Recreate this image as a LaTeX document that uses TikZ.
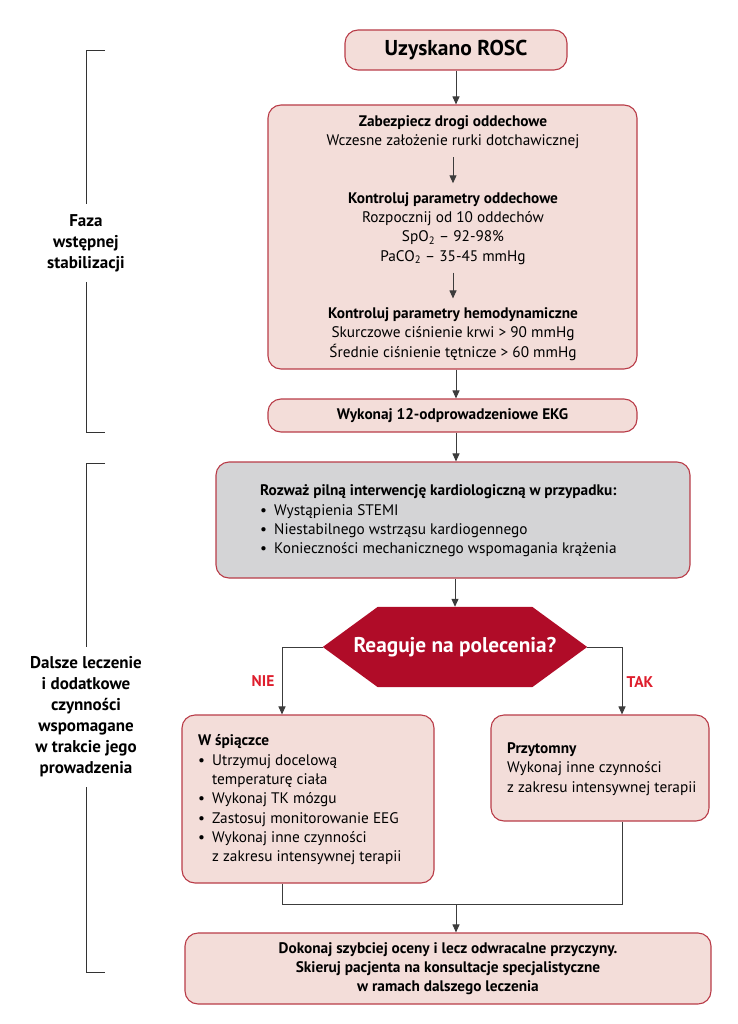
\documentclass[tikz,border=0pt]{standalone}
\usepackage{fontspec}
\setmainfont{PT Sans}
\usetikzlibrary{arrows.meta}
\definecolor{boxpink}{RGB}{243,221,217}
\definecolor{boxline}{RGB}{185,60,72}
\definecolor{boxgrey}{RGB}{212,212,214}
\definecolor{hexred}{RGB}{176,12,40}
\definecolor{labred}{RGB}{222,30,45}
\definecolor{linegrey}{RGB}{60,60,60}
\newcommand{\li}[1]{\makebox[14pt][l]{\textbullet}#1}
\newcommand{\lc}[1]{\hspace*{14pt}#1}

\begin{document}
\begin{tikzpicture}[x=1pt,y=-1pt,
	every node/.style={font=\fontsize{15.3}{19.3}\selectfont, inner sep=0pt},
	stepbox/.style={draw=boxline, fill=boxpink, line width=1.1pt, rounded corners=13pt},
	greybox/.style={stepbox, fill=boxgrey},
	arr/.style={draw=linegrey, line width=1pt, -{Triangle[length=8pt,width=7pt]}},
	link/.style={draw=linegrey, line width=1pt},
	brk/.style={draw=black!80, line width=0.9pt},
	side/.style={font=\bfseries\fontsize{17}{21}\selectfont, align=center, inner sep=10pt},
	answer/.style={font=\bfseries\fontsize{15.5}{17}\selectfont, text=labred}]
	\useasboundingbox (0,0) rectangle (737,1024);
	% boxes
	\node[stepbox, minimum width=222pt, minimum height=40pt, font=\bfseries\fontsize{21.5}{24}\selectfont] (rosc) at (456,50) {Uzyskano ROSC};
	\node[stepbox, minimum width=369pt, minimum height=264pt] (big) at (452.5,237) {};
	\node[align=center] (s1) at (453,132.5) {\textbf{Zabezpiecz drogi oddechowe}\\Wczesne założenie rurki dotchawicznej};
	\node[align=center] (s2) at (453,228.5) {\textbf{Kontroluj parametry oddechowe}\\Rozpocznij od 10 oddechów\\SpO\textsubscript{2} – 92-98\%\\PaCO\textsubscript{2} – 35-45 mmHg};
	\node[align=center] (s3) at (453,334) {\textbf{Kontroluj parametry hemodynamiczne}\\Skurczowe ciśnienie krwi > 90 mmHg\\Średnie ciśnienie tętnicze > 60 mmHg};
	\node[stepbox, minimum width=369pt, minimum height=33pt, font=\bfseries\fontsize{15.3}{19.3}\selectfont] (ekg) at (452.5,415.5) {Wykonaj 12-odprowadzeniowe EKG};
	\node[greybox, minimum width=474pt, minimum height=116pt] (grey) at (453,520) {};
	\node[align=left, anchor=west] (greytxt) at (260,521) {\textbf{Rozważ pilną interwencję kardiologiczną w przypadku:}\\\li{Wystąpienia STEMI}\\\li{Niestabilnego wstrząsu kardiogennego}\\\li{Konieczności mechanicznego wspomagania krążenia}};
	\node[minimum width=264pt, minimum height=80pt] (q) at (455,647) {};
	\fill[hexred] (q.west) -- ([xshift=55pt]q.north west) -- ([xshift=-55pt]q.north east) -- (q.east)
		-- ([xshift=-55pt]q.south east) -- ([xshift=55pt]q.south west) -- cycle;
	\node[text=white, font=\bfseries\fontsize{21.3}{24}\selectfont] (qtxt) at (q) {Reaguje na polecenia?};
	\node[stepbox, minimum width=252pt, minimum height=168pt] (coma) at (308,799) {};
	\node[align=left, anchor=west] (comatxt) at (198,800) {\textbf{W śpiączce}\\\li{Utrzymuj docelową}\\\lc{temperaturę ciała}\\\li{Wykonaj TK mózgu}\\\li{Zastosuj monitorowanie EEG}\\\li{Wykonaj inne czynności}\\\lc{z zakresu intensywnej terapii}};
	\node[stepbox, minimum width=218pt, minimum height=106pt] (przy) at (600,768) {};
	\node[align=left, anchor=west] (przytxt) at (507,769) {\textbf{Przytomny}\\Wykonaj inne czynności\\z zakresu intensywnej terapii};
	\node[stepbox, minimum width=526pt, minimum height=71pt, align=center, font=\bfseries\fontsize{15.3}{19.3}\selectfont] (dalej) at (448,968.5) {Dokonaj szybciej oceny i lecz odwracalne przyczyny.\\Skieruj pacjenta na konsultacje specjalistyczne\\w ramach dalszego leczenia};
	% labels
	\node[answer] (nie) at (263,681) {NIE};
	\node[answer] (tak) at (640,682) {TAK};
	% connectors
	\draw[arr] (rosc.south) -- (rosc.south |- big.north);
	\draw[arr, shorten <=8pt, shorten >=9pt] (s1.south) -- (s1.south |- s2.north);
	\draw[arr, shorten <=8pt, shorten >=9pt] (s2.south) -- (s2.south |- s3.north);
	\draw[arr] (rosc.south |- big.south) -- (rosc.south |- ekg.north);
	\draw[arr] (rosc.south |- ekg.south) -- (rosc.south |- grey.north);
	\draw[arr] (grey.south -| q.north) -- (q.north);
	\draw[arr] (q.west) -| ([xshift=-26pt]coma.north);
	\draw[arr] (q.east) -| ([xshift=22pt]przy.north);
	\coordinate (mrg) at (456,904);
	\draw[link] ([xshift=-26pt]coma.south) |- (mrg) -| ([xshift=22pt]przy.south);
	\draw[arr] (mrg) -- (mrg |- dalej.north);
	% phases
	\node[side] (faza) at (86,243) {Faza\\wstępnej\\stabilizacji};
	\draw[brk] (105,50) -| (faza.north);
	\draw[brk] (faza.south) |- (105,432);
	\node[side] (dalsze) at (86,717) {Dalsze leczenie\\i dodatkowe\\czynności\\wspomagane\\w trakcie jego\\prowadzenia};
	\draw[brk] (105,463) -| (dalsze.north);
	\draw[brk] (dalsze.south) |- (105,972);
\end{tikzpicture}
\end{document}
